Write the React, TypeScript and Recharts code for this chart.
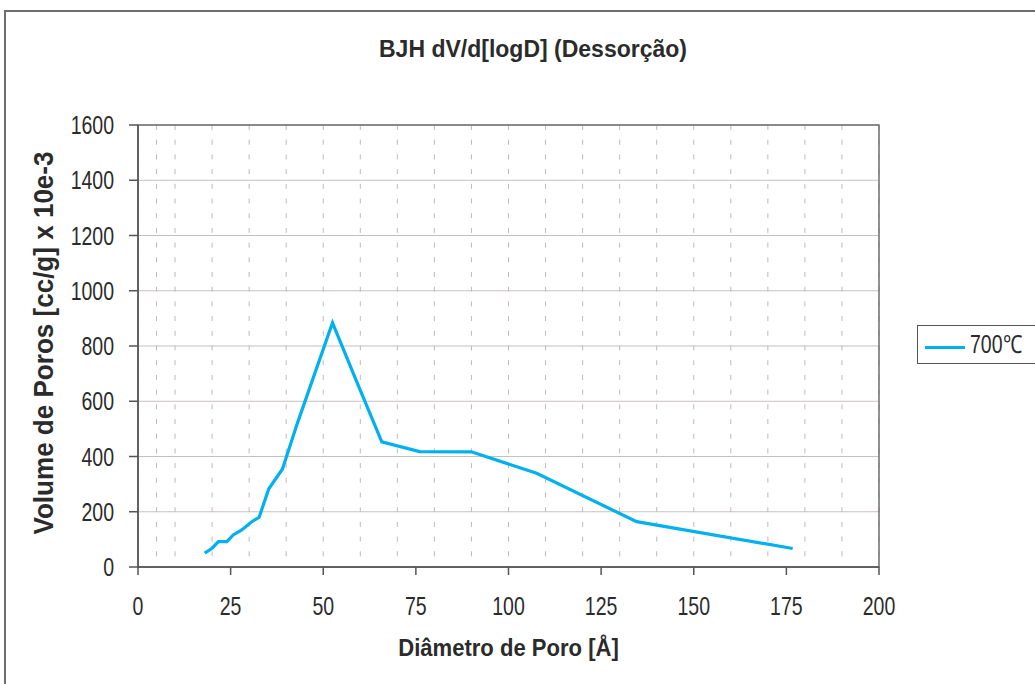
import React from 'react';
import { LineChart, Line, XAxis, YAxis, CartesianGrid, ReferenceArea } from 'recharts';

const seriesName = '700℃';
const diameter = [18, 20, 21.7, 24, 25.7, 28, 30.7, 32.7, 35.3, 39, 43, 52.5, 59, 65.8, 76, 90, 107.6, 134.6, 176.7];
const volume = [50, 68, 92, 92, 116, 134, 164, 180, 283, 355, 520, 884, 672, 453, 418, 417, 339, 164, 67];

const xTicks = [0, 25, 50, 75, 100, 125, 150, 175, 200];
const xMinorTicks = [0, 5, 10, 15, 20, 25, 30, 35, 40, 45, 50, 55, 60, 65, 70, 75, 80, 85, 90, 95, 100,
    105, 110, 115, 120, 125, 130, 135, 140, 145, 150, 155, 160, 165, 170, 175, 180, 185, 190, 195, 200];
const yTicks = [0, 200, 400, 600, 800, 1000, 1200, 1400, 1600];

const data = diameter.map((d, i) => ({ d, v: volume[i] }));

const font = "'Liberation Sans', Arial, sans-serif";
const textColor = '#2b2b2b';
const lineColor = '#00b0f0';
const squeeze = 0.78;

// narrow-looking tick text (the original uses a condensed face)
const NarrowTick = (props: any) => {
    const { x, y, payload, textAnchor, vertical } = props;
    return (
        <g transform={`translate(${x},${y}) scale(${squeeze},1)`}>
            <text x={0} y={0} dy={vertical ? '0.36em' : '0.71em'} textAnchor={textAnchor} fill={textColor} fontSize={25} fontFamily={font}>
                {payload.value}
            </text>
        </g>
    );
};

const App: React.FC = () => {
    return (
        <div style={{ position: 'absolute', left: 0, top: 0, width: 1035, height: 684, overflow: 'hidden', background: '#fff', fontFamily: font, color: textColor }}>
            <div style={{ position: 'absolute', left: 4, top: 10, width: 1100, height: 760, border: '2px solid #6e6e6e' }} />
            <div style={{ position: 'absolute', left: 0, width: 1066, top: 36, textAlign: 'center', fontSize: 23, fontWeight: 'bold' }}>
                BJH dV/d[logD] (Dessorção)
            </div>
            <div style={{ position: 'absolute', left: 0, top: 0 }}>
                <LineChart width={1035} height={684} data={data} margin={{ top: 125, right: 156, bottom: 17, left: 38 }}>
                    <CartesianGrid horizontal={false} xAxisId="minor" stroke="#c2b8b8" strokeDasharray="5 9.7" />
                    <CartesianGrid vertical={false} stroke="#c8c0c0" />
                    <ReferenceArea x1={0} x2={200} y1={0} y2={1600} fill="none" stroke="#6e6e6e" strokeWidth={1.5} ifOverflow="visible" />
                    <XAxis xAxisId="minor" dataKey="d" type="number" domain={[0, 200]} ticks={xMinorTicks} hide />
                    <XAxis
                        dataKey="d"
                        type="number"
                        domain={[0, 200]}
                        ticks={xTicks}
                        height={100}
                        tickSize={8}
                        tickMargin={22}
                        stroke="#555"
                        strokeWidth={1.5}
                        tick={<NarrowTick />}
                    />
                    <YAxis
                        type="number"
                        domain={[0, 1600]}
                        ticks={yTicks}
                        width={100}
                        tickSize={9}
                        tickMargin={15}
                        stroke="#555"
                        strokeWidth={1.5}
                        tick={<NarrowTick vertical />}
                    />
                    <Line
                        xAxisId="minor"
                        dataKey="v"
                        name={seriesName}
                        type="linear"
                        stroke={lineColor}
                        strokeWidth={3.2}
                        dot={false}
                        isAnimationActive={false}
                    />
                </LineChart>
            </div>
            <div style={{ position: 'absolute', left: 0, width: 1017, top: 634, textAlign: 'center', fontSize: 24.5, fontWeight: 'bold', transform: 'scaleX(0.9)' }}>
                Diâmetro de Poro [Å]
            </div>
            <div style={{ position: 'absolute', left: 44, top: 342.5, width: 0, height: 0 }}>
                <div style={{ position: 'absolute', left: -250, top: -16, width: 500, height: 32, lineHeight: '32px', textAlign: 'center', transform: 'rotate(-90deg) scaleX(0.93)', fontSize: 28, fontWeight: 'bold', whiteSpace: 'nowrap' }}>
                    Volume de Poros [cc/g] x 10e-3
                </div>
            </div>
            <div style={{ position: 'absolute', left: 917, top: 325, width: 140, height: 37, border: '1.5px solid #555', background: '#fff' }}>
                <div style={{ position: 'absolute', left: 7, top: 20, width: 40, height: 3, background: lineColor }} />
                <div style={{ position: 'absolute', left: 52, top: 3, fontSize: 25, lineHeight: '30px', transform: 'scaleX(0.78)', transformOrigin: 'left center', whiteSpace: 'nowrap' }}>
                    {seriesName}
                </div>
            </div>
        </div>
    );
};

export default App;
